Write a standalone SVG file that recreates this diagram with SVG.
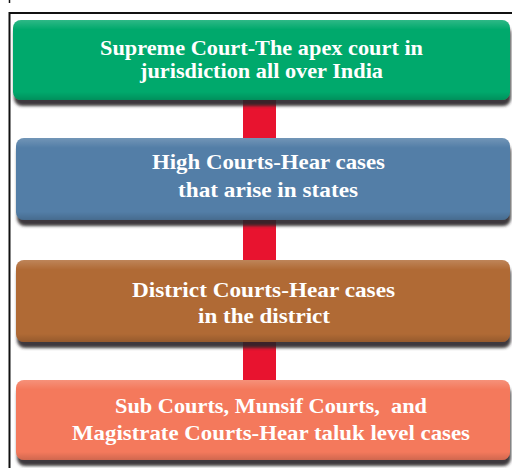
<svg xmlns="http://www.w3.org/2000/svg" width="512" height="468" viewBox="0 0 512 468">
  <style>
    .box { stroke: none; filter: url(#shadow); }
    .label { font-family: "Liberation Serif", "Times New Roman", serif; font-weight: bold; font-size: 22px; fill: #ffffff; text-anchor: middle; }
    .link { fill: #e8132f; }
  </style>
  <defs>
    <filter id="shadow" x="-5%" y="-10%" width="110%" height="130%">
      <feGaussianBlur in="SourceAlpha" stdDeviation="1.6" result="b"/>
      <feOffset in="b" dx="1" dy="6" result="o"/>
      <feFlood flood-color="#2a2628" flood-opacity="0.9"/>
      <feComposite in2="o" operator="in" result="s"/>
      <feMerge>
        <feMergeNode in="s"/>
        <feMergeNode in="SourceGraphic"/>
      </feMerge>
    </filter>
    <linearGradient id="sheen" x1="0" y1="0" x2="0" y2="1">
      <stop offset="0" stop-color="#ffffff" stop-opacity="0.18"/>
      <stop offset="0.12" stop-color="#ffffff" stop-opacity="0"/>
      <stop offset="0.9" stop-color="#000000" stop-opacity="0"/>
      <stop offset="1" stop-color="#000000" stop-opacity="0.15"/>
    </linearGradient>
  </defs>

  <rect width="512" height="468" fill="#ffffff"/>

  <!-- outer frame, open at right and bottom -->
  <path d="M9.5 468 V13 H512" fill="none" stroke="#111111" stroke-width="2"/>
  <path d="M9.5 0 V3" fill="none" stroke="#111111" stroke-width="1.5"/>

  <!-- connectors -->
  <g id="connectors">
    <rect class="link" x="243" y="100" width="33" height="40"/>
    <rect class="link" x="243" y="220" width="33" height="40"/>
    <rect class="link" x="243" y="342" width="33" height="40"/>
  </g>

  <g id="supreme-court">
    <rect class="box" x="13" y="20" width="497" height="80" rx="8" fill="#00a96c"/>
    <rect x="13" y="20" width="497" height="80" rx="8" fill="url(#sheen)"/>
    <text class="label" x="261.5" y="55" textLength="323" lengthAdjust="spacingAndGlyphs">Supreme Court-The apex court in</text>
    <text class="label" x="261.5" y="78" textLength="243" lengthAdjust="spacingAndGlyphs">jurisdiction all over India</text>
  </g>

  <g id="high-courts">
    <rect class="box" x="16" y="138" width="494" height="82" rx="8" fill="#527ea7"/>
    <rect x="16" y="138" width="494" height="82" rx="8" fill="url(#sheen)"/>
    <text class="label" x="268.5" y="169" textLength="233" lengthAdjust="spacingAndGlyphs">High Courts-Hear cases</text>
    <text class="label" x="268" y="197" textLength="180" lengthAdjust="spacingAndGlyphs">that arise in states</text>
  </g>

  <g id="district-courts">
    <rect class="box" x="16" y="260" width="494" height="82" rx="8" fill="#b06a36"/>
    <rect x="16" y="260" width="494" height="82" rx="8" fill="url(#sheen)"/>
    <text class="label" x="263.5" y="297" textLength="263" lengthAdjust="spacingAndGlyphs">District Courts-Hear cases</text>
    <text class="label" x="264" y="323" textLength="132" lengthAdjust="spacingAndGlyphs">in the district</text>
  </g>

  <g id="subordinate-courts">
    <rect class="box" x="16" y="380" width="494" height="80" rx="8" fill="#f4795b"/>
    <rect x="16" y="380" width="494" height="80" rx="8" fill="url(#sheen)"/>
    <text class="label" x="271" y="413" textLength="312" lengthAdjust="spacingAndGlyphs" xml:space="preserve">Sub Courts, Munsif Courts,  and</text>
    <text class="label" x="271" y="440" textLength="398" lengthAdjust="spacingAndGlyphs">Magistrate Courts-Hear taluk level cases</text>
  </g>
</svg>
